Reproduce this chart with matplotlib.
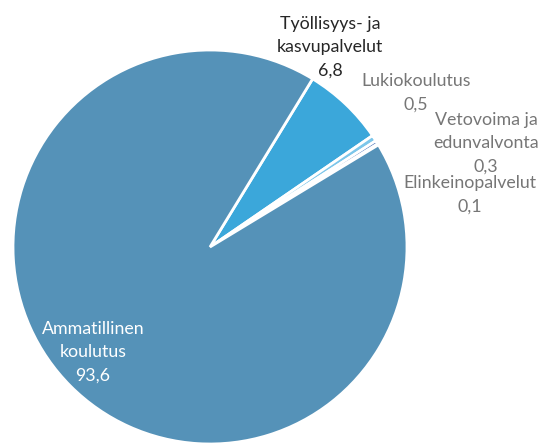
import matplotlib.pyplot as plt

# Data: budget shares by service area
labels = ["Työllisyys- ja\nkasvupalvelut", "Lukiokoulutus", "Vetovoima ja\nedunvalvonta",
          "Elinkeinopalvelut", "Ammatillinen\nkoulutus"]
values = [6.8, 0.5, 0.3, 0.1, 93.6]
colors = ["#3ba7da", "#7cc6ea", "#5a7fbd", "#8fa9d4", "#5592b8"]

# label anchor positions (pixels, top-left origin) and text colours
label_pos = [(330, 47), (416, 93), (486, 143), (470, 195), (93, 352)]
label_col = ["#262626", "#767676", "#767676", "#767676", "white"]

W, H = 542, 445
fig = plt.figure(figsize=(W / 100, H / 100), dpi=100)
ax = fig.add_axes([0, 0, 1, 1])
ax.axis("off")

ax.pie(values, colors=colors, startangle=58.6, counterclock=False,
       center=(210, H - 247), radius=197,
       wedgeprops=dict(edgecolor="white", linewidth=2))
ax.set_aspect("equal")
ax.set_xlim(0, W)
ax.set_ylim(0, H)

for lab, v, (x, y), c in zip(labels, values, label_pos, label_col):
    txt = lab + "\n" + f"{v:.1f}".replace(".", ",")
    ax.text(x, H - y, txt, ha="center", va="center", multialignment="center",
            color=c, fontsize=12.8, family=["Lato", "DejaVu Sans"], linespacing=1.55)

fig.savefig("out.png", dpi=100)
